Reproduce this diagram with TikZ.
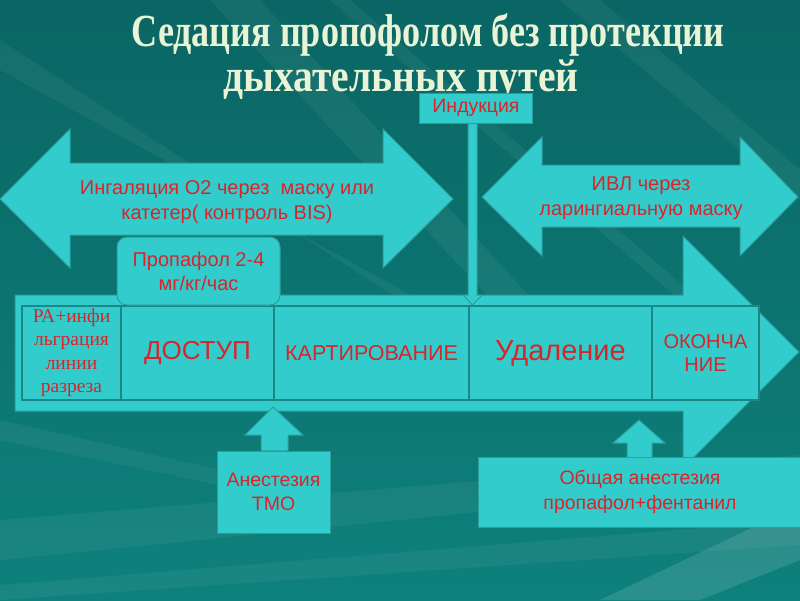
\documentclass[tikz,border=0pt]{standalone}
\usepackage{fontspec}
\setmainfont{Liberation Sans}
\newfontfamily\timesfont{Liberation Serif}
\usepackage{graphicx}
\usetikzlibrary{positioning,calc}
\definecolor{bgtop}{HTML}{0A6664}
\definecolor{bgbot}{HTML}{0E817C}
\definecolor{blockfill}{HTML}{33CCCC}
\definecolor{blockline}{HTML}{2A9E9E}
\definecolor{cellline}{HTML}{1D8686}
\definecolor{labelred}{HTML}{D7252B}
\definecolor{titlecol}{HTML}{E9F4D6}
\begin{document}
\begin{tikzpicture}[x=1pt,y=-1pt,
    block/.style={fill=blockfill,draw=blockline,line width=1pt},
    lbl/.style={text=labelred,align=center,inner sep=0pt,font=\fontsize{20}{25}\selectfont},
    cell/.style={draw=cellline,line width=1.2pt,fill=blockfill,minimum height=94pt,
      inner sep=0pt,outer sep=0pt,text=labelred,align=center},
    titletext/.style={anchor=base,text=titlecol,inner sep=0pt},
    streak/.style={fill=white,opacity=0.05}]
  \useasboundingbox (0,0) rectangle (800,600);
  \shade[top color=bgtop,bottom color=bgbot] (0,0) rectangle (800,600);
  % light streaks of the background
  \fill[streak] (210,0) -- (260,0) -- (560,330) -- (520,330) -- cycle;
  \fill[streak] (330,0) -- (350,0) -- (700,300) -- (680,300) -- cycle;
  \fill[streak] (0,40) -- (0,70) -- (420,300) -- (400,300) -- cycle;
  \fill[streak] (560,0) -- (600,0) -- (800,170) -- (800,200) -- cycle;
  \fill[streak] (0,520) -- (800,455) -- (800,480) -- (0,560) -- cycle;
  \fill[streak] (0,585) -- (800,520) -- (800,545) -- (0,600) -- cycle;
  \fill[white,opacity=0.12] (600,600) -- (800,505) -- (800,560) -- (700,600) -- cycle;
  \fill[streak] (0,420) -- (220,470) -- (220,485) -- (0,440) -- cycle;

  \node[titletext] (title1) at (428,46)
    {\resizebox{593pt}{\height}{\timesfont\bfseries\fontsize{46}{52}\selectfont Седация пропофолом без протекции}};
  \node[titletext] (title2) at (401,91)
    {\resizebox{355pt}{\height}{\timesfont\bfseries\fontsize{46}{52}\selectfont дыхательных путей}};

  \draw[block] (0,199) -- (70,129) -- (70,163) -- (383,163) -- (383,129) -- (453,199)
    -- (383,268) -- (383,235) -- (70,235) -- (70,268) -- cycle;
  \node[lbl] (inhal) at (227,202)
    {Ингаляция О2 через\ \ маску или\\катетер( контроль BIS)};

  \draw[block] (482,197) -- (542,137) -- (542,165) -- (740,165) -- (740,137) -- (798,197)
    -- (740,256) -- (740,227) -- (542,227) -- (542,256) -- cycle;
  \node[lbl] (ivl) at (641,198) {ИВЛ через\\ларингиальную маску};

  \draw[block] (15,295) -- (683,295) -- (683,236) -- (799,352) -- (683,468)
    -- (683,411) -- (15,411) -- cycle;

  \node[cell,minimum width=99pt,anchor=north west,font=\timesfont\fontsize{19.5}{23.5}\selectfont]
    (ra) at (22,306) {РА+инфи\\льграция\\линии\\разреза};
  \node[cell,minimum width=153pt,right=0pt of ra,font=\fontsize{26}{30}\selectfont]
    (dostup) {ДОСТУП};
  \node[cell,minimum width=195pt,right=0pt of dostup,font=\fontsize{21.5}{24}\selectfont]
    (kart) {КАРТИРОВАНИЕ};
  \node[cell,minimum width=183pt,right=0pt of kart,font=\fontsize{29}{32}\selectfont]
    (udal) {Удаление};
  \node[cell,minimum width=107pt,right=0pt of udal,font=\fontsize{20}{23}\selectfont]
    (okon) {ОКОНЧА\\НИЕ};

  \node[block,lbl,minimum width=113pt,minimum height=30pt,font=\fontsize{19.5}{22}\selectfont]
    (induct) at (476,108) {Индукция};
  \draw[block] (induct.south -| 468,0) -- (induct.south -| 477,0) -- (477,295) -- (482,295)
    -- (472.5,305) -- (463,295) -- (468,295) -- cycle;

  \node[block,lbl,rounded corners=10pt,minimum width=163pt,minimum height=68pt,
    font=\fontsize{20}{24}\selectfont] (propo) at (198.5,271) {Пропафол 2-4\\мг/кг/час};

  \node[block,lbl,minimum width=113pt,minimum height=82pt,font=\fontsize{19.5}{24}\selectfont]
    (anest) at (273.5,492) {Анестезия\\ТМО};
  \draw[block] (anest.north -| 261,0) -- (261,435) -- (245,435) -- (273,407) -- (303,435)
    -- (288,435) -- (anest.north -| 288,0);

  \node[block,minimum width=326pt,minimum height=70pt,anchor=north west] (obsh) at (478,457) {};
  \node[lbl,font=\fontsize{19.5}{25}\selectfont] (obshtxt) at (640,492)
    {Общая анестезия\\пропафол+фентанил};
  \draw[block] (obsh.north -| 627,0) -- (627,443) -- (613,443) -- (639,420) -- (665,443)
    -- (652,443) -- (obsh.north -| 652,0);
\end{tikzpicture}
\end{document}
